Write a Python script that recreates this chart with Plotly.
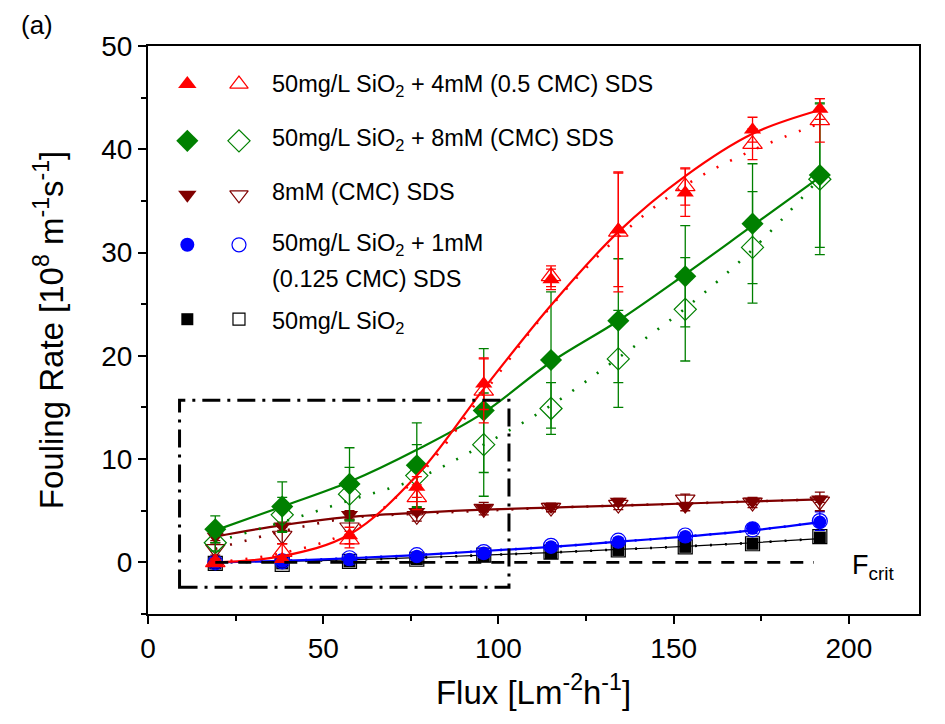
import plotly.graph_objects as go

# ---------------- data ----------------
flux = [19.2, 38.3, 57.5, 76.7, 95.8, 115.0, 134.2, 153.3, 172.5, 191.7]

# 50mg/L SiO2 + 4mM (0.5 CMC) SDS
red_filled = [0.0, 0.3, 2.6, 7.3, 17.3, 27.4, 32.2, 35.8, 41.9, 43.9]
red_filled_err = [0.3, 0.3, 0.8, 1.0, 2.5, 1.0, 5.5, 2.3, 1.2, 1.0]
red_open = [0.0, 1.0, 2.2, 6.3, 16.6, 27.7, 32.0, 36.4, 40.5, 42.8]
red_open_err = [0.3, 0.8, 0.8, 1.2, 3.1, 1.0, 5.8, 1.8, 1.5, 2.1]
red_fit = [0.0, 0.6, 2.7, 8.4, 16.8, 24.9, 32.0, 37.4, 41.5, 43.8]
red_fit_open = [0.0, 0.9, 3.0, 8.2, 16.4, 24.8, 31.5, 36.5, 39.9, 42.5]

# 50mg/L SiO2 + 8mM (CMC) SDS
green_filled = [3.2, 5.4, 7.6, 9.4, 14.7, 19.6, 23.4, 27.7, 32.8, 37.5]
green_filled_err = [1.3, 2.4, 3.5, 4.1, 6.0, 6.6, 6.0, 4.9, 5.8, 7.0]
green_open = [1.9, 4.6, 6.6, 8.4, 11.4, 14.9, 19.7, 24.5, 30.5, 37.1]
green_open_err = [0.8, 1.7, 2.6, 3.0, 5.0, 2.5, 4.7, 5.0, 5.4, 7.3]
green_fit = [3.1, 5.4, 7.8, 10.9, 14.5, 19.4, 23.4, 27.9, 32.6, 37.3]
green_fit_open = [2.0, 3.9, 6.0, 8.1, 11.4, 15.2, 19.8, 24.6, 30.3, 37.2]

# 8mM (CMC) SDS
maroon_filled = [2.5, 3.5, 4.6, 4.9, 5.2, 5.4, 5.9, 5.4, 5.9, 6.1]
maroon_filled_err = [0.4, 0.4, 0.4, 0.3, 0.3, 0.3, 0.3, 0.4, 0.3, 0.3]
maroon_open = [1.3, 2.6, 3.4, 4.5, 5.2, 5.3, 5.6, 6.1, 5.8, 5.9]
maroon_open_err = [0.6, 0.8, 0.7, 0.5, 0.6, 0.4, 0.5, 0.5, 0.5, 0.9]
maroon_fit = [2.5, 3.6, 4.4, 4.8, 5.1, 5.3, 5.5, 5.7, 5.9, 6.1]
maroon_fit_open = [1.3, 3.0, 4.3, 4.7, 5.0, 5.3, 5.5, 5.7, 5.9, 6.1]

# 50mg/L SiO2 + 1mM (0.125 CMC) SDS
blue_filled = [0.0, 0.1, 0.3, 0.6, 0.9, 1.5, 2.0, 2.5, 3.3, 3.9]
blue_filled_err = [0.2, 0.2, 0.2, 0.2, 0.2, 0.2, 0.2, 0.3, 0.3, 0.3]
blue_open = [0.0, 0.1, 0.4, 0.7, 1.0, 1.6, 2.1, 2.6, 3.2, 4.0]
blue_open_err = [0.3, 0.3, 0.3, 0.3, 0.3, 0.3, 0.3, 0.3, 0.4, 0.9]
blue_fit = [0.0, 0.15, 0.4, 0.7, 1.1, 1.5, 2.0, 2.5, 3.1, 3.9]

# 50mg/L SiO2
black_filled = [-0.1, -0.1, 0.1, 0.3, 0.6, 0.9, 1.2, 1.5, 1.8, 2.4]
black_filled_err = [0.2, 0.2, 0.2, 0.2, 0.2, 0.2, 0.2, 0.2, 0.2, 0.2]
black_open = [-0.1, -0.2, 0.1, 0.3, 0.7, 1.0, 1.2, 1.5, 1.8, 2.5]
black_open_err = [0.2, 0.2, 0.2, 0.2, 0.2, 0.2, 0.2, 0.2, 0.2, 0.2]
black_fit = [0.0, 0.1, 0.25, 0.45, 0.7, 0.95, 1.25, 1.55, 1.9, 2.3]

# critical flux reference line and zoom box
fcrit_flux = [19.2, 190.0]
fcrit_rate = [0.0, 0.0]
box_flux = [9.0, 103.0]
box_rate = [-2.4, 15.7]

legend_labels = [
    "50mg/L SiO<sub>2</sub> + 4mM (0.5 CMC) SDS",
    "50mg/L SiO<sub>2</sub> + 8mM (CMC) SDS",
    "8mM (CMC) SDS",
    "50mg/L SiO<sub>2</sub> + 1mM",
    "(0.125 CMC) SDS",
    "50mg/L SiO<sub>2</sub>",
]

FONT = "Arial, Liberation Sans, sans-serif"
RED = "#FF0000"
GREEN = "#008000"
MAROON = "#800000"
BLUE = "#0000FF"
BLACK = "#000000"
DOT = "2px,13px"

fig = go.Figure()


def add_fit(y, color, dotted=False, width=2.2):
    fig.add_trace(go.Scatter(
        x=flux, y=y, mode="lines", line_shape="spline",
        line=dict(color=color, width=(2.6 if dotted else width), dash=(DOT if dotted else "solid")),
        showlegend=False, hoverinfo="skip"))


def add_pts(y, err, color, symbol, size, open_=False):
    fig.add_trace(go.Scatter(
        x=flux, y=y, mode="markers",
        marker=dict(symbol=symbol, size=size, color=color,
                    line=dict(color=color, width=1.2 if open_ else 0)),
        error_y=dict(type="data", array=err, visible=True, color=color,
                     thickness=1.3, width=5),
        showlegend=False))


# black
add_fit(black_fit, BLACK, width=1.2)
add_fit(black_fit, BLACK, dotted=True)
add_pts(black_filled, black_filled_err, BLACK, "square", 12)
add_pts(black_open, black_open_err, BLACK, "square-open", 14, True)
# blue
add_fit(blue_fit, BLUE)
add_fit(blue_fit, BLUE, dotted=True)
add_pts(blue_filled, blue_filled_err, BLUE, "circle", 13)
add_pts(blue_open, blue_open_err, BLUE, "circle-open", 15, True)
# maroon
add_fit(maroon_fit, MAROON)
add_fit(maroon_fit_open, MAROON, dotted=True)
add_pts(maroon_filled, maroon_filled_err, MAROON, "triangle-down", 15)
add_pts(maroon_open, maroon_open_err, MAROON, "triangle-down-open", 17, True)
# green
add_fit(green_fit, GREEN)
add_fit(green_fit_open, GREEN, dotted=True)
add_pts(green_filled, green_filled_err, GREEN, "diamond", 17)
add_pts(green_open, green_open_err, GREEN, "diamond-open", 17, True)
# red
add_fit(red_fit, RED)
add_fit(red_fit_open, RED, dotted=True)
add_pts(red_filled, red_filled_err, RED, "triangle-up", 15)
add_pts(red_open, red_open_err, RED, "triangle-up-open", 17, True)

# Fcrit dashed line
fig.add_trace(go.Scatter(x=fcrit_flux, y=fcrit_rate, mode="lines",
                         line=dict(color=BLACK, width=2.6, dash="13px,10px"),
                         showlegend=False, hoverinfo="skip"))

# ---------------- custom legend (two symbols per row) ----------------
leg_rows_sym = [0.933, 0.833, 0.738, 0.650, 0.519]
leg_rows_txt = [0.930, 0.835, 0.743, 0.650, 0.590, 0.514]
leg_specs = [
    (RED, "triangle-up", "triangle-up-open", 16),
    (GREEN, "diamond", "diamond-open", 17),
    (MAROON, "triangle-down", "triangle-down-open", 16),
    (BLUE, "circle", "circle-open", 14),
    (BLACK, "square", "square-open", 12),
]
for (color, sf, so, sz), ys in zip(leg_specs, leg_rows_sym):
    fig.add_trace(go.Scatter(x=[0.051], y=[ys], mode="markers", xaxis="x2", yaxis="y2",
                             marker=dict(symbol=sf, size=sz, color=color, line=dict(width=0)),
                             showlegend=False, hoverinfo="skip"))
    fig.add_trace(go.Scatter(x=[0.118], y=[ys], mode="markers", xaxis="x2", yaxis="y2",
                             marker=dict(symbol=so, size=sz, color=color, line=dict(width=1.2, color=color)),
                             showlegend=False, hoverinfo="skip"))

annotations = []
for lab, yt in zip(legend_labels, leg_rows_txt):
    annotations.append(dict(text=lab, x=0.158, y=yt, xref="paper", yref="paper",
                            xanchor="left", yanchor="middle", align="left", showarrow=False,
                            font=dict(family=FONT, size=23.5, color=BLACK)))

annotations.append(dict(text="F<sub>crit</sub>", x=0.911, y=0.083, xref="paper", yref="paper",
                        xanchor="left", yanchor="middle", showarrow=False,
                        font=dict(family=FONT, size=27, color=BLACK)))
annotations.append(dict(text="(a)", x=-0.167, y=1.0669, xref="paper", yref="paper",
                        xanchor="left", yanchor="top", showarrow=False,
                        font=dict(family=FONT, size=26, color=BLACK)))

fig.add_shape(type="rect", xref="x", yref="y",
              x0=box_flux[0], x1=box_flux[1], y0=box_rate[0], y1=box_rate[1],
              line=dict(color=BLACK, width=3, dash="18px,7px,3px,7px"))

axis_common = dict(showgrid=False, zeroline=False, showline=True, linecolor=BLACK,
                   linewidth=2, mirror=True, ticks="outside", ticklen=8, tickwidth=2,
                   tickcolor=BLACK, tickfont=dict(family=FONT, size=28, color=BLACK))

fig.update_layout(
    width=945, height=724,
    margin=dict(l=140, r=34, t=38, b=118),
    paper_bgcolor="white", plot_bgcolor="white",
    font=dict(family=FONT, color=BLACK),
    showlegend=False,
    annotations=annotations,
    xaxis=dict(range=[0, 220], tick0=0, dtick=50,
               minor=dict(ticks="outside", dtick=25, ticklen=5, tickwidth=1.5, tickcolor=BLACK),
               title=dict(text="Flux [Lm<sup>-2</sup>h<sup>-1</sup>]", standoff=18,
                          font=dict(family=FONT, size=33, color=BLACK)),
               **axis_common),
    yaxis=dict(range=[-5, 50], tick0=0, dtick=10,
               minor=dict(ticks="outside", dtick=5, ticklen=5, tickwidth=1.5, tickcolor=BLACK),
               title=dict(text="Fouling Rate [10<sup>8</sup> m<sup>-1</sup>s<sup>-1</sup>]", standoff=28,
                          font=dict(family=FONT, size=33, color=BLACK)),
               **axis_common),
    xaxis2=dict(overlaying="x", anchor="y2", range=[0, 1], visible=False),
    yaxis2=dict(overlaying="y", anchor="x2", range=[0, 1], visible=False),
)

fig.write_html("out.html")
